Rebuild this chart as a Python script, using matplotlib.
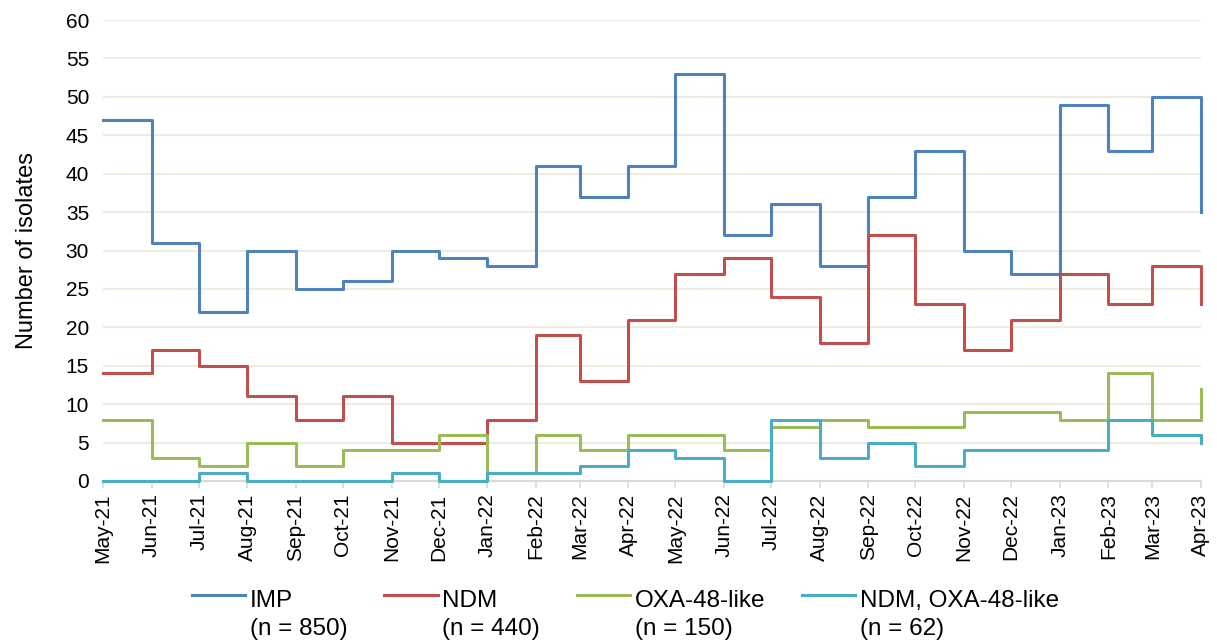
import matplotlib
matplotlib.use("Agg")
import matplotlib.pyplot as plt
import matplotlib.dates as mdates
import matplotlib.transforms as mtrans
from matplotlib.legend_handler import HandlerLine2D
import pandas as pd

plt.rcParams['font.family'] = ['Liberation Sans', 'DejaVu Sans']

months = pd.date_range('2021-05-01', periods=24, freq='MS')
imp = [47, 31, 22, 30, 25, 26, 30, 29, 28, 41, 37, 41, 53, 32, 36, 28, 37, 43, 30, 27, 49, 43, 50, 35]
ndm = [14, 17, 15, 11, 8, 11, 5, 5, 8, 19, 13, 21, 27, 29, 24, 18, 32, 23, 17, 21, 27, 23, 28, 23]
oxa = [8, 3, 2, 5, 2, 4, 4, 6, 1, 6, 4, 6, 6, 4, 7, 8, 7, 7, 9, 9, 8, 14, 8, 12]
ndm_oxa = [0, 0, 1, 0, 0, 0, 1, 0, 1, 1, 2, 4, 3, 0, 8, 3, 5, 2, 4, 4, 4, 8, 6, 5]

series = [
    (imp, "IMP\n(n = 850)", "#4F81BD"),
    (ndm, "NDM\n(n = 440)", "#C0504D"),
    (oxa, "OXA-48-like\n(n = 150)", "#9BBB59"),
    (ndm_oxa, "NDM, OXA-48-like\n(n = 62)", "#4BACC6"),
]

FS = 15
LEG_FS = 17.5


# legend line sits next to the first line of the two-line label
class TopLine(HandlerLine2D):
    def create_artists(self, legend, orig_handle, xdescent, ydescent, width, height, fontsize, trans):
        arts = super().create_artists(legend, orig_handle, xdescent, ydescent, width, height, fontsize, trans)
        for a in arts:
            a.set_transform(mtrans.Affine2D().translate(0, 0.8 * fontsize) + trans)
        return arts


fig = plt.figure(figsize=(12.17, 6.42), dpi=100)
ax = fig.add_axes([0.0846, 0.2508, 0.9022, 0.718])

for vals, lab, col in series:
    ax.step(months, vals, where='post', color=col, lw=2.2, label=lab, clip_on=False, zorder=3)

ax.set_ylim(0, 60)
ax.set_yticks(range(0, 61, 5))
ax.set_xlim(months[0], months[-1])
ax.set_xticks(months)
ax.xaxis.set_major_formatter(mdates.DateFormatter('%b-%y'))
plt.setp(ax.get_xticklabels(), rotation=90)

ax.grid(axis='y', color='#EEECE1', lw=1.5)
ax.set_axisbelow(True)
for s in ['top', 'right', 'left']:
    ax.spines[s].set_visible(False)
ax.spines['bottom'].set_color('#D9D9D9')
ax.spines['bottom'].set_linewidth(1.5)
ax.tick_params(axis='y', length=0, labelsize=FS, pad=10)
ax.tick_params(axis='x', length=5, color='#D9D9D9', width=1.2, labelsize=FS, pad=4)
ax.set_ylabel("Number of isolates", fontsize=17, labelpad=20)

leg = ax.legend(loc='upper center', bbox_to_anchor=(0.514, 0.115), bbox_transform=fig.transFigure,
                ncol=4, frameon=False, fontsize=LEG_FS, handlelength=2.2, columnspacing=1.5,
                handletextpad=0.2, handler_map={matplotlib.lines.Line2D: TopLine()})
for t in leg.get_texts():
    t.set_linespacing(1.33)

fig.savefig("out.png", dpi=100)
